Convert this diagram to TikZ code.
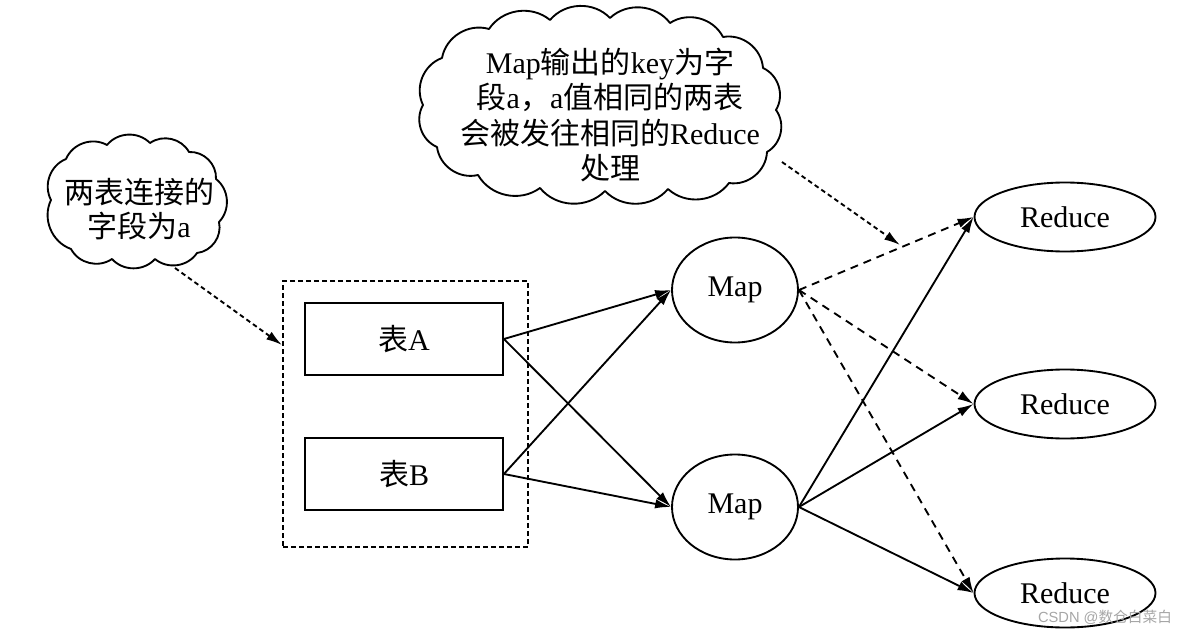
\documentclass[tikz,border=0pt]{standalone}
\usepackage{fontspec}
\setmainfont{Liberation Serif}
\newfontfamily\cjk{Noto Sans CJK SC}
\newfontfamily\wmfont{Liberation Sans}
\usetikzlibrary{shapes.geometric,arrows.meta}
\begin{document}
\begin{tikzpicture}[x=0.75pt,y=-0.75pt,
  every node/.style={font=\fontsize{22.5}{25.5}\selectfont},
  ln/.style={line width=1.4pt},
  tip/.style={-{Latex[length=12pt,width=7pt]}},
  tablebox/.style={draw,ln,minimum width=148.5pt,minimum height=54pt,inner sep=0pt},
  mapnode/.style={draw,ln,ellipse,minimum width=94.5pt,minimum height=78.75pt,inner sep=0pt},
  rednode/.style={draw,ln,ellipse,minimum width=135.75pt,minimum height=51.75pt,inner sep=0pt},
  puff/.style={bend left=48},
  fine/.style={ln,dash pattern=on 3.5pt off 2.5pt},
  longdash/.style={ln,dash pattern=on 6pt off 4.5pt}
]
\useasboundingbox (0,0) rectangle (1184,631);

% cloud 1
\draw[ln,line join=round] (51,200) to[puff] (66,159) to[puff] (107,145) to[puff] (150,143)
  to[puff] (189,152) to[puff] (216,179) to[puff] (219,222) to[puff] (197,253)
  to[puff] (155,259) to[puff] (112,259) to[puff] (71,249) to[puff] cycle;
\node[align=center] (t1) at (139,209) {{\cjk 两表连接的}\\{\cjk 字段为}a};

% cloud 2
\draw[ln,line join=round] (423,105) to[puff] (442,58) to[puff] (489,29) to[puff] (550,20)
  to[puff] (610,18) to[puff] (670,23) to[puff] (723,37) to[puff] (763,68)
  to[puff] (776,110) to[puff] (767,152) to[puff] (729,183) to[puff] (668,189)
  to[puff] (605,191) to[puff] (540,188) to[puff] (478,175) to[puff] (437,147) to[puff] cycle;
\node[align=center,font=\fontsize{22.5}{26.5}\selectfont] (t2) at (610,115) {Map{\cjk 输出的}key{\cjk 为字}\\{\cjk 段}a{\cjk ，}a{\cjk 值相同的两表}\\{\cjk 会被发往相同的}Reduce\\{\cjk 处理}};

% dashed container and tables
\node[draw,fine,minimum width=183.75pt,minimum height=199.5pt,inner sep=0pt] (grp) at (405.5,414) {};
\node[tablebox] (A) at (404,339) {{\cjk 表}A};
\node[tablebox] (B) at (404,474) {{\cjk 表}B};

% maps
\node[mapnode] (m1) at (735,290) {Map};
\node[mapnode] (m2) at (735,507) {Map};

% reduces
\node[rednode] (r1) at (1065,217) {Reduce};
\node[rednode] (r2) at (1065,404) {Reduce};
\node[rednode] (r3) at (1065,593) {Reduce};

% watermark
\node[font=\wmfont\fontsize{11}{13}\selectfont,text=black!35] (wm) at (1105,617) {CSDN @{\cjk 数仓白菜白}};

% annotation arrows
\coordinate (c1o) at (175,268);
\coordinate (grpin) at (282,345);
\draw[fine,tip] (c1o) -- (grpin);
\coordinate (c2o) at (782,162);
\coordinate (c2t) at (900,245);
\draw[fine,tip] (c2o) -- (c2t);

% table to map
\draw[ln,tip] (A.east) -- (m1.west);
\draw[ln,tip] (A.east) -- (m2.west);
\draw[ln,tip] (B.east) -- (m1.west);
\draw[ln,tip] (B.east) -- (m2.west);

% map to reduce
\draw[ln,tip] (m2.east) -- (r1.west);
\draw[ln,tip] (m2.east) -- (r2.west);
\draw[ln,tip] (m2.east) -- (r3.west);
\draw[longdash,tip] (m1.east) -- (r1.west);
\draw[longdash,tip] (m1.east) -- (r2.west);
\draw[longdash,tip] (m1.east) -- (r3.west);
\end{tikzpicture}
\end{document}
